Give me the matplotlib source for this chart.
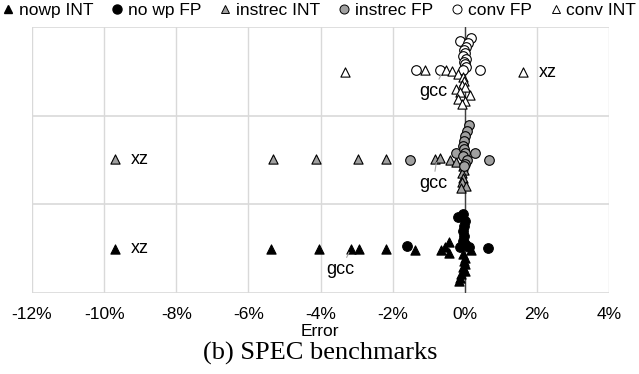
import matplotlib
matplotlib.use("Agg")
import matplotlib.pyplot as plt
from matplotlib.lines import Line2D

# ---- data (error in %, vertical position within band) ----
nowp_int_x = [-9.69, -5.38, -4.04, -3.16, -2.93, -2.19, -1.38, -0.65, -0.56, -0.44, -0.43, 0.18,
              -0.05, 0.02, -0.03, 0.00, -0.06, 0.01, -0.10, -0.12, -0.15]
nowp_int_y = [0.50, 0.50, 0.50, 0.50, 0.50, 0.50, 0.49, 0.49, 0.52, 0.57, 0.45, 0.48,
              0.44, 0.40, 0.36, 0.33, 0.29, 0.25, 0.21, 0.17, 0.14]

nowp_fp_x = [-1.60, -0.14, 0.13, 0.65, -0.19, -0.05, 0.00, -0.03, -0.05, -0.03, -0.04, 0.02]
nowp_fp_y = [0.53, 0.52, 0.52, 0.51, 0.86, 0.89, 0.81, 0.76, 0.70, 0.64, 0.59, 0.55]

instrec_int_x = [-9.69, -5.33, -4.13, -2.96, -2.19, -0.83, -0.68, -0.42, -0.25,
                 -0.05, -0.03, -0.08, -0.05, -0.09, 0.04, -0.10]
instrec_int_y = [1.51, 1.51, 1.51, 1.51, 1.51, 1.51, 1.52, 1.50, 1.48,
                 1.43, 1.39, 1.35, 1.30, 1.25, 1.21, 1.18]

instrec_fp_x = [-1.51, -0.23, 0.28, 0.67, 0.12, 0.05, 0.00, -0.03, -0.05, -0.03, 0.00, -0.05, 0.05, 0.00, -0.03]
instrec_fp_y = [1.50, 1.58, 1.58, 1.50, 1.89, 1.83, 1.77, 1.71, 1.66, 1.62, 1.58, 1.54, 1.50, 1.46, 1.43]

conv_fp_x = [0.18, -0.12, 0.09, 0.03, -0.03, 0.00, -0.05, 0.04, -0.03, 0.00, 0.03, -0.05, -1.34, -0.69, 0.42]
conv_fp_y = [2.88, 2.84, 2.82, 2.78, 2.74, 2.71, 2.67, 2.64, 2.61, 2.58, 2.55, 2.52, 2.51, 2.51, 2.51]

conv_int_x = [-3.31, -1.11, -0.51, -0.34, -0.19, 1.62,
              -0.05, -0.03, -0.07, 0.00, -0.23, -0.12, 0.14, -0.19, 0.00, -0.09]
conv_int_y = [2.49, 2.51, 2.52, 2.50, 2.47, 2.49,
              2.44, 2.39, 2.35, 2.32, 2.30, 2.27, 2.23, 2.19, 2.17, 2.13]

x_ticks = [-12, -10, -8, -6, -4, -2, 0, 2, 4]
x_ticklabels = ["-12%", "-10%", "-8%", "-6%", "-4%", "-2%", "0%", "2%", "4%"]

# annotations: (label, x, y) and (label, point x, point y, text x, text y)
xz_labels = [("xz", 2.05, 2.49), ("xz", -9.25, 1.51), ("xz", -9.25, 0.50)]
gcc_labels = [("gcc", -0.60, 2.51, -0.88, 2.27),
              ("gcc", -0.77, 1.52, -0.88, 1.23),
              ("gcc", -3.16, 0.50, -3.44, 0.26)]

# ---- figure ----
plt.rcParams['font.family'] = ['Liberation Sans', 'DejaVu Sans']
fig = plt.figure(figsize=(6.39, 3.74), dpi=100)
ax = fig.add_axes([32/639, 81/374, 577/639, 266/374])
ax.set_xlim(-12, 4)
ax.set_ylim(0, 3)

grid_c = '#d9d9d9'
for t in x_ticks:
    ax.axvline(t, color=grid_c, lw=1.0, zorder=0)
for yy in [0, 1, 2, 3]:
    ax.axhline(yy, color=grid_c, lw=1.2, zorder=0)
ax.axvline(0, color='#404040', lw=1.0, zorder=1)

for s in ax.spines.values():
    s.set_visible(False)
ax.set_yticks([])
ax.set_xticks(x_ticks)
ax.set_xticklabels(x_ticklabels, fontsize=12.5)
ax.tick_params(axis='x', length=0, pad=10)

ms_c = 48
ms_t = 44
gray = '#a0a0a0'
ax.scatter(nowp_int_x, nowp_int_y, marker='^', s=ms_t, c='black', edgecolors='black', linewidths=0.8, zorder=3)
ax.scatter(nowp_fp_x, nowp_fp_y, marker='o', s=ms_c, c='black', edgecolors='black', linewidths=0.8, zorder=3)
ax.scatter(instrec_int_x, instrec_int_y, marker='^', s=ms_t, c=gray, edgecolors='black', linewidths=0.8, zorder=3)
ax.scatter(instrec_fp_x, instrec_fp_y, marker='o', s=ms_c, c=gray, edgecolors='black', linewidths=0.8, zorder=3)
ax.scatter(conv_fp_x, conv_fp_y, marker='o', s=ms_c, c='white', edgecolors='black', linewidths=0.8, zorder=3)
ax.scatter(conv_int_x, conv_int_y, marker='^', s=ms_t, c='white', edgecolors='black', linewidths=0.8, zorder=3)

for lab, tx, ty in xz_labels:
    ax.text(tx, ty, lab, fontsize=13, ha='left', va='center', zorder=5)
for lab, px, py, tx, ty in gcc_labels:
    ax.annotate(lab, xy=(px, py), xytext=(tx, ty), fontsize=13, ha='center', va='center',
                arrowprops=dict(arrowstyle='-', color='#a6a6a6', lw=0.8, shrinkA=1, shrinkB=3),
                zorder=5)

# legend
handles = [
    Line2D([], [], ls='', marker='^', ms=5.5, mfc='black', mec='black'),
    Line2D([], [], ls='', marker='o', ms=6.5, mfc='black', mec='black'),
    Line2D([], [], ls='', marker='^', ms=5.5, mfc=gray, mec='black', mew=0.7),
    Line2D([], [], ls='', marker='o', ms=6.5, mfc=gray, mec='black', mew=0.7),
    Line2D([], [], ls='', marker='o', ms=6.5, mfc='white', mec='black', mew=0.7),
    Line2D([], [], ls='', marker='^', ms=5.5, mfc='white', mec='black', mew=0.7),
]
labels = ["nowp INT", "no wp FP", "instrec INT", "instrec FP", "conv FP", "conv INT"]
fig.legend(handles, labels, loc='center', bbox_to_anchor=(0.5, 1 - 10/374), ncol=6,
           frameon=False, fontsize=12.5, handlelength=0.6, handletextpad=0.3,
           columnspacing=1.1, borderpad=0, borderaxespad=0)

fig.text(320/639, 1 - 331/374, "Error", fontsize=12.5, ha='center', va='center')
fig.text(320/639, 1 - 353/374, "(b) SPEC benchmarks", fontsize=19,
         family=['Liberation Serif', 'DejaVu Serif'], ha='center', va='center')

fig.savefig("out.png", dpi=100)
